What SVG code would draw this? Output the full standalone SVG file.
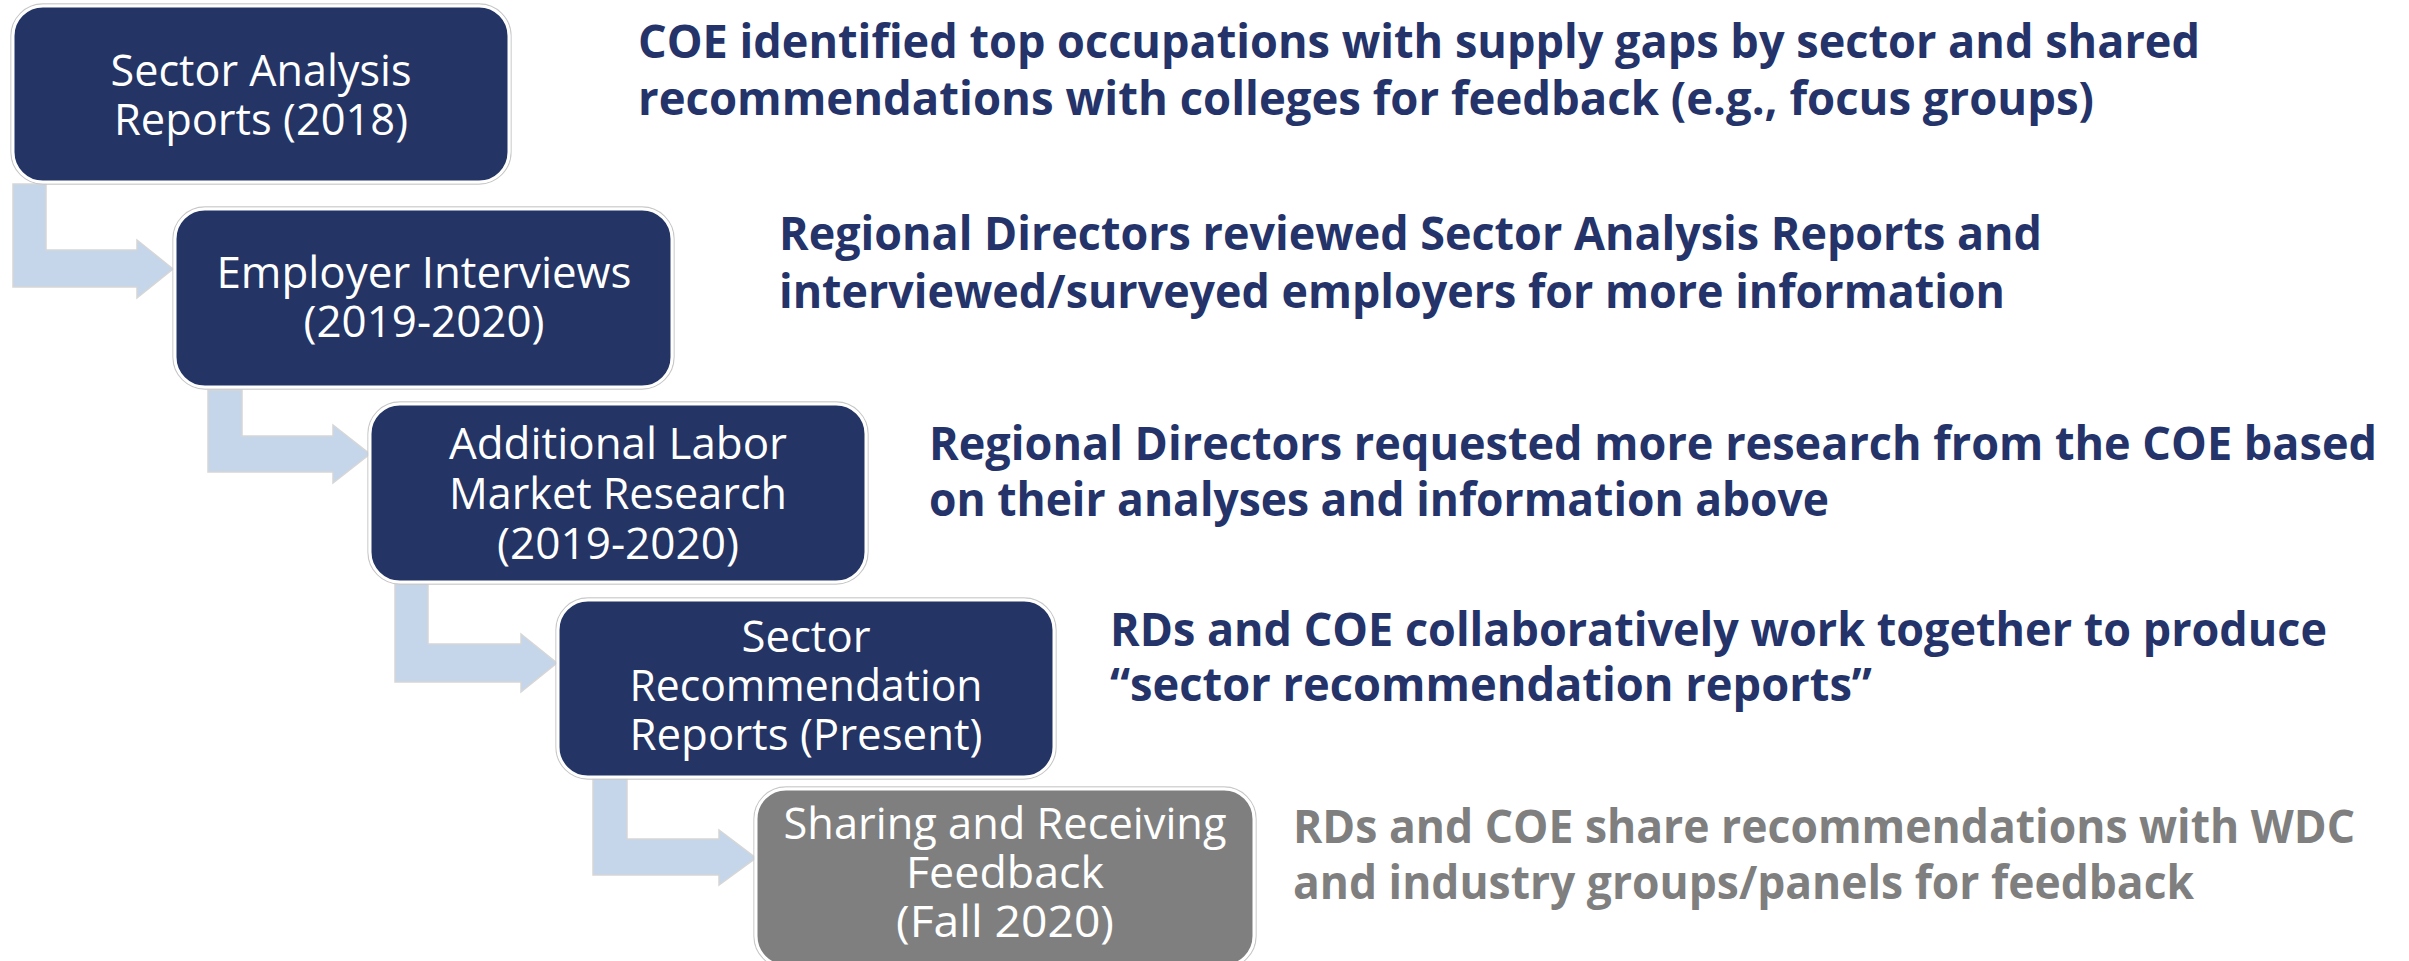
<svg xmlns="http://www.w3.org/2000/svg" width="2409" height="961" viewBox="0 0 2409 961">
<style>
.box{stroke:#ffffff;stroke-width:3}
.edge{fill:none;stroke:#c8c8c8;stroke-width:1.3}
.navy{fill:#233465}
.grey{fill:#7f7f7f}
.arrow{fill:#c5d5ea;stroke:#d6d6d6;stroke-width:1.5;stroke-linejoin:miter}
.bt{font-family:"Open Sans","Noto Sans","Liberation Sans",sans-serif;font-size:44px;fill:#ffffff;text-anchor:middle}
.rt{font-family:"Open Sans","Noto Sans","Liberation Sans",sans-serif;font-size:46px;font-weight:bold}
.rn{fill:#24336a}
.rg{fill:#7f7f7f}
</style>
<rect width="2409" height="961" fill="#ffffff"/>
<g id="connectors">
<path class="arrow" d="M13,184 H46 V250 H137 V240 L173,269 L137,298 V287 H13 Z"/>
<path class="arrow" d="M208,390 H242 V436 H333 V425 L370,454 L333,483 V472 H208 Z"/>
<path class="arrow" d="M395,584 H428 V644 H521 V634 L557,663 L521,692 V682 H395 Z"/>
<path class="arrow" d="M593,779 H627 V839 H719 V830 L756,858 L719,885 V875 H593 Z"/>
</g>
<g id="node1">
<rect class="edge" x="11" y="4" width="500" height="180" rx="32"/>
<rect class="box navy" x="13" y="6" width="496" height="176" rx="30"/>
<text class="bt" x="261" y="86" textLength="301" lengthAdjust="spacingAndGlyphs">Sector Analysis</text>
<text class="bt" x="261" y="135" textLength="294" lengthAdjust="spacingAndGlyphs">Reports (2018)</text>
</g>
<g id="node2">
<rect class="edge" x="173" y="207" width="501" height="182" rx="32"/>
<rect class="box navy" x="175" y="209" width="497" height="178" rx="30"/>
<text class="bt" x="424" y="288" textLength="415" lengthAdjust="spacingAndGlyphs">Employer Interviews</text>
<text class="bt" x="424" y="337" textLength="241" lengthAdjust="spacingAndGlyphs">(2019-2020)</text>
</g>
<g id="node3">
<rect class="edge" x="368" y="402" width="500" height="182" rx="32"/>
<rect class="box navy" x="370" y="404" width="496" height="178" rx="30"/>
<text class="bt" x="618" y="459" textLength="338" lengthAdjust="spacingAndGlyphs">Additional Labor</text>
<text class="bt" x="618" y="509" textLength="338" lengthAdjust="spacingAndGlyphs">Market Research</text>
<text class="bt" x="618" y="559" textLength="242" lengthAdjust="spacingAndGlyphs">(2019-2020)</text>
</g>
<g id="node4">
<rect class="edge" x="556" y="598" width="500" height="181" rx="32"/>
<rect class="box navy" x="558" y="600" width="496" height="177" rx="30"/>
<text class="bt" x="806" y="652" textLength="129" lengthAdjust="spacingAndGlyphs">Sector</text>
<text class="bt" x="806" y="701" textLength="353" lengthAdjust="spacingAndGlyphs">Recommendation</text>
<text class="bt" x="806" y="750" textLength="353" lengthAdjust="spacingAndGlyphs">Reports (Present)</text>
</g>
<g id="node5">
<rect class="edge" x="754" y="787" width="502" height="181" rx="32"/>
<rect class="box grey" x="756" y="789" width="498" height="177" rx="30"/>
<text class="bt" x="1005" y="839" textLength="443" lengthAdjust="spacingAndGlyphs">Sharing and Receiving</text>
<text class="bt" x="1005" y="888" textLength="198" lengthAdjust="spacingAndGlyphs">Feedback</text>
<text class="bt" x="1005" y="937" textLength="218" lengthAdjust="spacingAndGlyphs">(Fall 2020)</text>
</g>
<g id="desc1">
<text class="rt rn" x="638" y="58" textLength="1562" lengthAdjust="spacingAndGlyphs">COE identified top occupations with supply gaps by sector and shared</text>
<text class="rt rn" x="638" y="115" textLength="1456" lengthAdjust="spacingAndGlyphs">recommendations with colleges for feedback (e.g., focus groups)</text>
</g>
<g id="desc2">
<text class="rt rn" x="779" y="250" textLength="1263" lengthAdjust="spacingAndGlyphs">Regional Directors reviewed Sector Analysis Reports and</text>
<text class="rt rn" x="779" y="308" textLength="1226" lengthAdjust="spacingAndGlyphs">interviewed/surveyed employers for more information</text>
</g>
<g id="desc3">
<text class="rt rn" x="929" y="460" textLength="1448" lengthAdjust="spacingAndGlyphs">Regional Directors requested more research from the COE based</text>
<text class="rt rn" x="929" y="516" textLength="900" lengthAdjust="spacingAndGlyphs">on their analyses and information above</text>
</g>
<g id="desc4">
<text class="rt rn" x="1110" y="646" textLength="1217" lengthAdjust="spacingAndGlyphs">RDs and COE collaboratively work together to produce</text>
<text class="rt rn" x="1110" y="701" textLength="762" lengthAdjust="spacingAndGlyphs">“sector recommendation reports”</text>
</g>
<g id="desc5">
<text class="rt rg" x="1293" y="843" textLength="1062" lengthAdjust="spacingAndGlyphs">RDs and COE share recommendations with WDC</text>
<text class="rt rg" x="1293" y="899" textLength="901" lengthAdjust="spacingAndGlyphs">and industry groups/panels for feedback</text>
</g>
</svg>
